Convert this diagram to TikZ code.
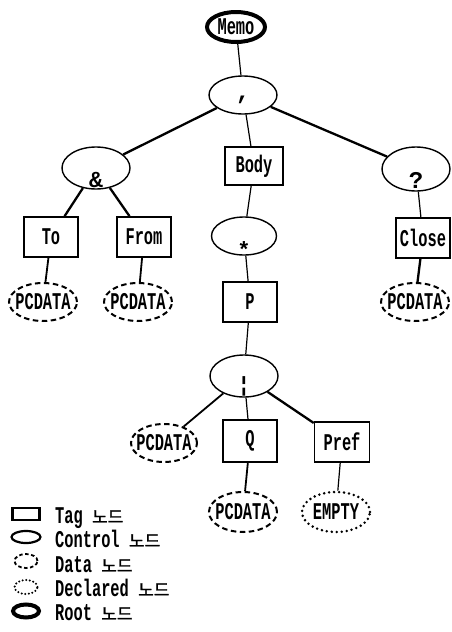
\documentclass[tikz,border=0pt]{standalone}
\usepackage{fontspec}
\newfontfamily\lbl[FakeStretch=0.64]{Liberation Mono}
\newfontfamily\sym{Liberation Mono}
\newfontfamily\kr[FakeBold=1.5]{Noto Sans CJK KR}
\usetikzlibrary{shapes.geometric}
\newcommand{\zb}[1]{\makebox[0pt][c]{#1}}
\newcommand{\lowered}[2]{\raisebox{-#1pt}[0pt][0pt]{\makebox[0pt][c]{\sym\bfseries #2}}}
\newcommand{\nodu}{{\kr\mdseries\fontsize{17}{17}\selectfont 노드}}
\begin{document}
\begin{tikzpicture}[x=1pt,y=-1pt,
  every node/.style={font=\lbl\bfseries\fontsize{24}{24}\selectfont, inner sep=0pt},
  tagbox/.style={draw, rectangle, line width=1.6pt, minimum width=54pt, minimum height=40pt},
  ctrl/.style={draw, ellipse, line width=1.4pt, minimum width=68pt, minimum height=42pt},
  datan/.style={draw, ellipse, line width=2pt, dash pattern=on 5.5pt off 3.5pt, minimum width=68pt, minimum height=38pt},
  decln/.style={draw, ellipse, line width=2.8pt, line cap=round, dash pattern=on 0pt off 5pt, minimum width=68pt, minimum height=38pt},
  rootn/.style={draw, ellipse, line width=4pt, minimum width=58pt, minimum height=30pt},
  lthin/.style={line width=1.2pt},
  lmid/.style={line width=1.8pt},
  lthick/.style={line width=2.3pt},
  legtext/.style={anchor=base west}
]
\useasboundingbox (0,0) rectangle (451,632);

% nodes
\node[rootn] (memo) at (236,27) {Memo};
\node[ctrl, minimum height=38pt] (comma) at (243,95) {\lowered{4}{,}};
\node[ctrl] (amp) at (96,168) {\lowered{19}{\fontsize{23}{23}\selectfont\&}};
\node[tagbox] (to) at (51,237) {To};
\node[tagbox] (from) at (144,237) {From};
\node[tagbox, minimum width=58pt, minimum height=38pt] (body) at (254,166) {Body};
\node[ctrl, minimum height=44pt] (quest) at (416,169) {\lowered{19}{\fontsize{24}{24}\selectfont ?}};
\node[tagbox] (close) at (423,238) {Close};
\node[datan] (pcto) at (43,302) {\zb{PCDATA}};
\node[datan] (pcfrom) at (138,302) {\zb{PCDATA}};
\node[datan] (pcclose) at (415,302) {\zb{PCDATA}};
\node[ctrl, minimum width=65pt, minimum height=38pt] (star) at (244,236) {\lowered{21}{\fontsize{22}{22}\selectfont *}};
\node[tagbox] (p) at (250,302) {P};
\node[ctrl] (choice) at (244,376) {\lowered{15}{\fontsize{21}{21}\selectfont ¦}};
\node[datan, minimum width=66pt] (pcl) at (164,443) {\zb{PCDATA}};
\node[tagbox, minimum height=42pt] (q) at (250,441) {Q};
\node[tagbox, minimum width=55pt] (pref) at (342,442) {Pref};
\node[datan, minimum height=40pt] (pcq) at (243,512) {\zb{PCDATA}};
\node[decln, minimum height=40pt] (empty) at (336,512) {\zb{EMPTY}};

% connectors
\draw[lthin] (memo) -- (comma);
\draw[lthick] (comma) -- (amp);
\draw[lthin] (comma) -- (body);
\draw[lthick] (comma) -- (quest);
\draw[lthick] (amp) -- (to);
\draw[lthick] (amp) -- (from);
\draw[lmid] (to) -- (pcto);
\draw[lmid] (from) -- (pcfrom);
\draw[lthin] (body) -- (star);
\draw[lthin] (star) -- (p);
\draw[lthin] (quest) -- (close);
\draw[lthick] (close) -- (pcclose);
\draw[lthin] (p) -- (choice);
\draw[lmid] (choice) -- (pcl);
\draw[lthin] (choice) -- (q);
\draw[lthick] (choice) -- (pref);
\draw[lmid] (q) -- (pcq);
\draw[lthin] (pref) -- (empty);

% legend
\node[draw, rectangle, line width=2.2pt, minimum width=27pt, minimum height=12pt] (lg1) at (26,514) {};
\node[draw, ellipse, line width=2.2pt, minimum width=29pt, minimum height=12pt] (lg2) at (26,537) {};
\node[draw, ellipse, line width=1.8pt, dash pattern=on 3.5pt off 2.5pt, minimum width=23pt, minimum height=14pt] (lg3) at (26,561) {};
\node[draw, ellipse, line width=2.3pt, line cap=round, dash pattern=on 0pt off 3.6pt, minimum width=23pt, minimum height=14pt] (lg4) at (26,587) {};
\node[draw, ellipse, line width=4pt, minimum width=26pt, minimum height=13pt] (lg5) at (26,611) {};
\node[legtext] (t1) at (55,523) {Tag \nodu};
\node[legtext] (t2) at (55,547) {Control \nodu};
\node[legtext] (t3) at (55,572) {Data \nodu};
\node[legtext] (t4) at (55,596) {Declared \nodu};
\node[legtext] (t5) at (55,620) {Root \nodu};
\end{tikzpicture}
\end{document}
